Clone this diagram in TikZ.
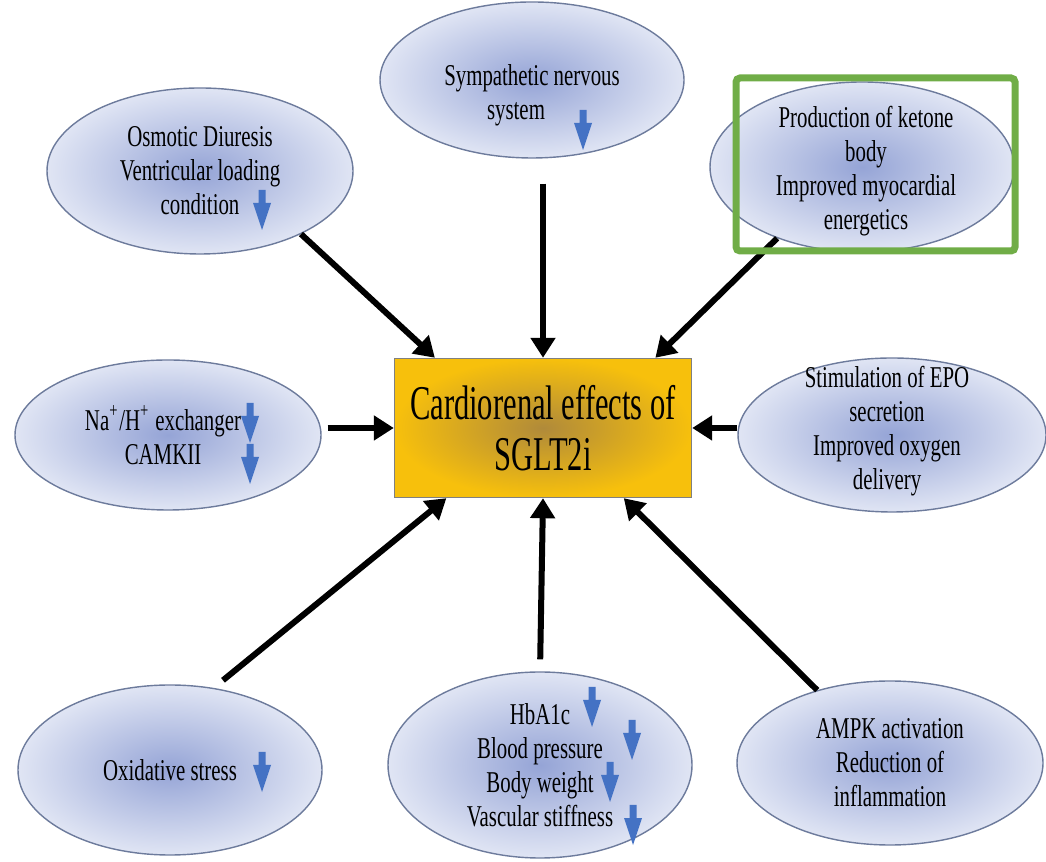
\documentclass[tikz,border=0pt]{standalone}
\usepackage{fontspec}
\setmainfont{Liberation Serif}[FakeStretch=0.69]
\newfontfamily\titlefont{Liberation Serif}[FakeStretch=0.63]
\usetikzlibrary{shapes.geometric,arrows.meta}
\definecolor{bubin}{HTML}{95A4D6}
\definecolor{bubout}{HTML}{E0E5F4}
\definecolor{bubline}{HTML}{6D7B9C}
\definecolor{goldin}{HTML}{B08A3A}
\definecolor{goldout}{HTML}{F7C00C}
\definecolor{arrblue}{HTML}{4472C4}
\definecolor{boxgreen}{HTML}{70AD47}
\newcommand{\dnarrow}[1]{\fill[arrblue] #1 ++(-0.035,0) -- ++(0.07,0) -- ++(0,-0.13) -- ++(0.055,0) -- ++(-0.09,-0.27) -- ++(-0.09,0.27) -- ++(0.055,0) -- cycle;}

\begin{document}
\begin{tikzpicture}[>={Triangle[length=0.2cm,width=0.24cm]},
    bub/.style={ellipse, draw=bubline, line width=0.4pt, inner color=bubin, outer color=bubout, inner sep=0pt},
    txt/.style={align=center, font=\fontsize{8.6}{9.7}\selectfont},
    link/.style={->, line width=0.06cm}]
    \useasboundingbox (0,0) rectangle (10.46,8.61);
    \node[bub, minimum width=3.06cm, minimum height=1.66cm, label={[txt]center:{Osmotic Diuresis\\Ventricular loading\\condition}}] (osm) at (2.00,6.90) {};
    \node[bub, minimum width=3.04cm, minimum height=1.56cm, label={[txt, yshift=-0.15cm]center:{Sympathetic nervous\\system\rule{0.32cm}{0pt}}}] (sym) at (5.32,7.81) {};
    \node[bub, minimum width=3.04cm, minimum height=1.70cm, label={[txt, xshift=0.04cm, yshift=-0.04cm]center:{Production of ketone\\body\\Improved myocardial\\energetics}}] (ket) at (8.62,6.94) {};
    \node[bub, minimum width=3.06cm, minimum height=1.50cm, label={[txt, xshift=-0.05cm]center:{Na\textsuperscript{+}/H\textsuperscript{+} exchanger\\CAMKII}}] (nah) at (1.68,4.26) {};
    \node[bub, minimum width=3.08cm, minimum height=1.54cm, label={[txt, xshift=-0.05cm, yshift=0.04cm]center:{Stimulation of EPO\\secretion\\Improved oxygen\\delivery}}] (epo) at (8.92,4.26) {};
    \node[bub, minimum width=3.04cm, minimum height=1.70cm, label={[txt]center:{Oxidative stress}}] (oxi) at (1.70,0.91) {};
    \node[bub, minimum width=3.04cm, minimum height=1.86cm, label={[txt]center:{HbA1c\\Blood pressure\\Body weight\\Vascular stiffness}}] (hba) at (5.40,0.96) {};
    \node[bub, minimum width=3.06cm, minimum height=1.64cm, label={[txt]center:{AMPK activation\\Reduction of\\inflammation}}] (amp) at (8.90,0.98) {};
    \node[draw=gray, line width=0.4pt, inner color=goldin, outer color=goldout, minimum width=2.97cm, minimum height=1.39cm, align=center, font=\titlefont\fontsize{13.8}{14.6}\selectfont] (card) at (5.43,4.33) {Cardiorenal effects of\\SGLT2i};
    \dnarrow{(2.62,6.71)}
    \dnarrow{(5.83,7.51)}
    \dnarrow{(2.50,4.58)}
    \dnarrow{(2.50,4.17)}
    \dnarrow{(2.62,1.09)}
    \dnarrow{(5.92,1.74)}
    \dnarrow{(6.32,1.41)}
    \dnarrow{(6.10,0.99)}
    \dnarrow{(6.33,0.56)}
    \draw[link] (osm.-32) -- (card.147);
    \draw[link, shorten <=0.25cm] (sym.south -| card.north) -- (card.north);
    \draw[link] (ket.220) -- (card.32);
    \draw[link, shorten <=0.06cm] (nah.east |- card.west) -- (card.west);
    \draw[link] (epo.west |- card.east) -- (card.east);
    \draw[link, shorten <=0.12cm] (oxi.62) -- (card.216);
    \draw[link, shorten <=0.12cm] (hba.north) -- (card.south);
    \draw[link] (amp.135) -- (card.-41);
    \draw[boxgreen, line width=0.07cm, rounded corners=0.04cm] (7.36,6.10) rectangle (10.15,7.83);
\end{tikzpicture}
\end{document}
